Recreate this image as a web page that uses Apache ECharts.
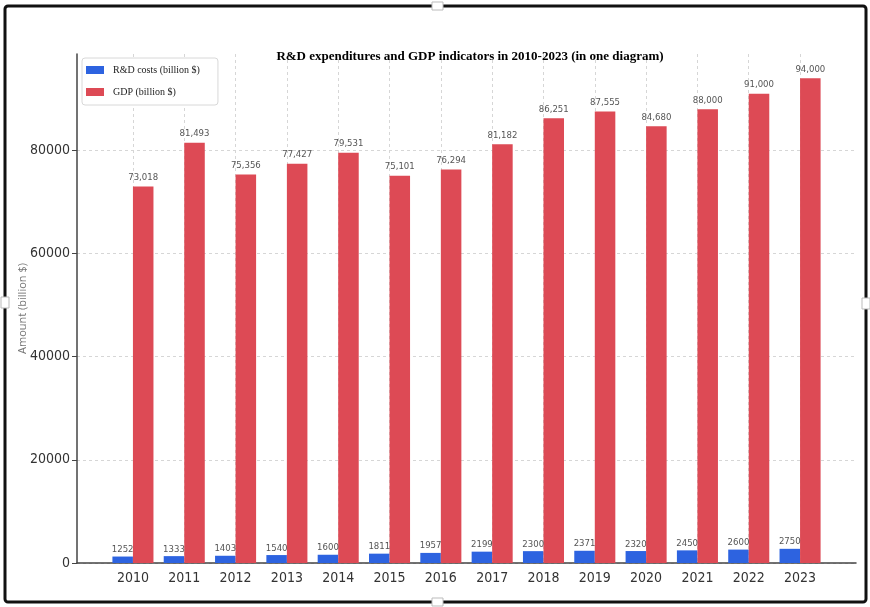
<!DOCTYPE html>
<html>
<head>
<meta charset="utf-8">
<title>R&amp;D expenditures and GDP indicators in 2010-2023</title>
<script src="https://cdn.jsdelivr.net/npm/echarts@6/dist/echarts.min.js"></script>
<style>
  html, body { margin: 0; padding: 0; background: #ffffff; }
  #chart { width: 870px; height: 607px; }
</style>
</head>
<body>
<div id="chart"></div>
<script>
// Years on the category axis
const categories = ['2010', '2011', '2012', '2013', '2014', '2015', '2016',
                    '2017', '2018', '2019', '2020', '2021', '2022', '2023'];
// R&D costs, billion $
const rdCosts = [1252, 1333, 1403, 1540, 1600, 1811, 1957,
                 2199, 2300, 2371, 2320, 2450, 2600, 2750];
// GDP, billion $
const gdp = [73018, 81493, 75356, 77427, 79531, 75101, 76294,
             81182, 86251, 87555, 84680, 88000, 91000, 94000];
// Value-axis tick labels
const yTicks = [0, 20000, 40000, 60000, 80000];

const seriesNames = ['R&D costs (billion $)', 'GDP (billion $)'];

// Bars are 0.4 of a category wide, the axis keeps a 5% margin around them
const barHalf = 0.4;
const xMargin = 0.05 * ((categories.length - 1) + 2 * barHalf);
const xMin = -barHalf - xMargin;
const xMax = (categories.length - 1) + barHalf + xMargin;
const yMax = Math.max(...gdp) * 1.05;

const condensed = "'DejaVu Sans Condensed', 'Liberation Sans Narrow', 'DejaVu Sans', sans-serif";
const serif = "'Liberation Serif', 'DejaVu Serif', serif";
const catIndex = categories.map((c, i) => i);

const chart = echarts.init(document.getElementById('chart'), null, { renderer: 'canvas' });

chart.setOption({
  animation: false,
  backgroundColor: '#ffffff',
  title: {
    text: 'R&D expenditures and GDP indicators in 2010-2023 (in one diagram)',
    left: 465,
    top: 45,
    textAlign: 'center',
    textStyle: { fontFamily: serif, fontWeight: 'bold', fontSize: 13, color: '#000' }
  },
  legend: {
    orient: 'vertical',
    left: 82,
    top: 58,
    itemWidth: 18,
    itemHeight: 8,
    itemGap: 10,
    padding: [6, 18, 7, 4],
    backgroundColor: '#ffffff',
    borderColor: '#d8d8d8',
    borderWidth: 1,
    borderRadius: 3,
    icon: 'rect',
    data: seriesNames,
    textStyle: { fontFamily: serif, fontSize: 10, color: '#222', lineHeight: 12, padding: [0, 0, 0, 4] }
  },
  grid: { left: 77, right: 14, top: 54, bottom: 44, containLabel: false },
  xAxis: {
    type: 'value',
    min: xMin,
    max: xMax,
    axisLine: { show: true, onZero: false, lineStyle: { color: '#444', width: 1.5 } },
    axisTick: { show: false, customValues: catIndex },
    axisLabel: {
      customValues: catIndex,
      margin: 8,
      fontFamily: condensed,
      fontSize: 14,
      color: '#333',
      formatter: v => categories[Math.round(v)] || ''
    },
    splitLine: { show: true, lineStyle: { color: '#d6d6d6', type: [3, 3], width: 1 } }
  },
  yAxis: {
    type: 'value',
    min: 0,
    max: yMax,
    name: 'Amount (billion $)',
    nameLocation: 'middle',
    nameGap: 49,
    nameMoveOverlap: false,
    nameTextStyle: { fontFamily: "'Open Sans', 'DejaVu Sans', sans-serif", fontSize: 11, color: '#777' },
    axisLine: { show: true, onZero: false, lineStyle: { color: '#444', width: 1.5 } },
    axisTick: { show: true, length: 5, customValues: yTicks, lineStyle: { color: '#444' } },
    axisLabel: {
      customValues: yTicks, margin: 7, fontFamily: condensed, fontSize: 14, color: '#333',
      formatter: v => String(v)
    },
    splitLine: { show: true, lineStyle: { color: '#d6d6d6', type: [3, 3], width: 1 } }
  },
  series: [
    {
      name: seriesNames[0],
      type: 'bar',
      barWidth: '40%',
      barGap: '0%',
      itemStyle: { color: '#2d63e0' },
      label: {
        show: true, position: 'top', distance: 2,
        fontFamily: condensed, fontSize: 9.5, color: '#555',
        formatter: p => String(p.value[1])
      },
      data: categories.map((c, i) => [i, rdCosts[i]])
    },
    {
      name: seriesNames[1],
      type: 'bar',
      barWidth: '40%',
      barGap: '0%',
      itemStyle: { color: '#dd4a55' },
      label: {
        show: true, position: 'top', distance: 4,
        fontFamily: condensed, fontSize: 9.5, color: '#555',
        formatter: p => p.value[1].toLocaleString('en-US')
      },
      data: categories.map((c, i) => [i, gdp[i]])
    }
  ],
  graphic: [
    // outer frame
    { type: 'rect', silent: true, z: 100,
      shape: { x: 5, y: 6, width: 861, height: 596, r: 3 },
      style: { fill: null, stroke: '#111', lineWidth: 3 } },
    // small handles at the middle of each frame edge
    { type: 'rect', silent: true, z: 101, shape: { x: 432, y: 2, width: 11, height: 8 },
      style: { fill: '#fff', stroke: '#bbb', lineWidth: 1 } },
    { type: 'rect', silent: true, z: 101, shape: { x: 432, y: 598, width: 11, height: 8 },
      style: { fill: '#fff', stroke: '#bbb', lineWidth: 1 } },
    { type: 'rect', silent: true, z: 101, shape: { x: 1, y: 297, width: 8, height: 11 },
      style: { fill: '#fff', stroke: '#bbb', lineWidth: 1 } },
    { type: 'rect', silent: true, z: 101, shape: { x: 862, y: 298, width: 8, height: 11 },
      style: { fill: '#fff', stroke: '#bbb', lineWidth: 1 } }
  ]
});
</script>
</body>
</html>
